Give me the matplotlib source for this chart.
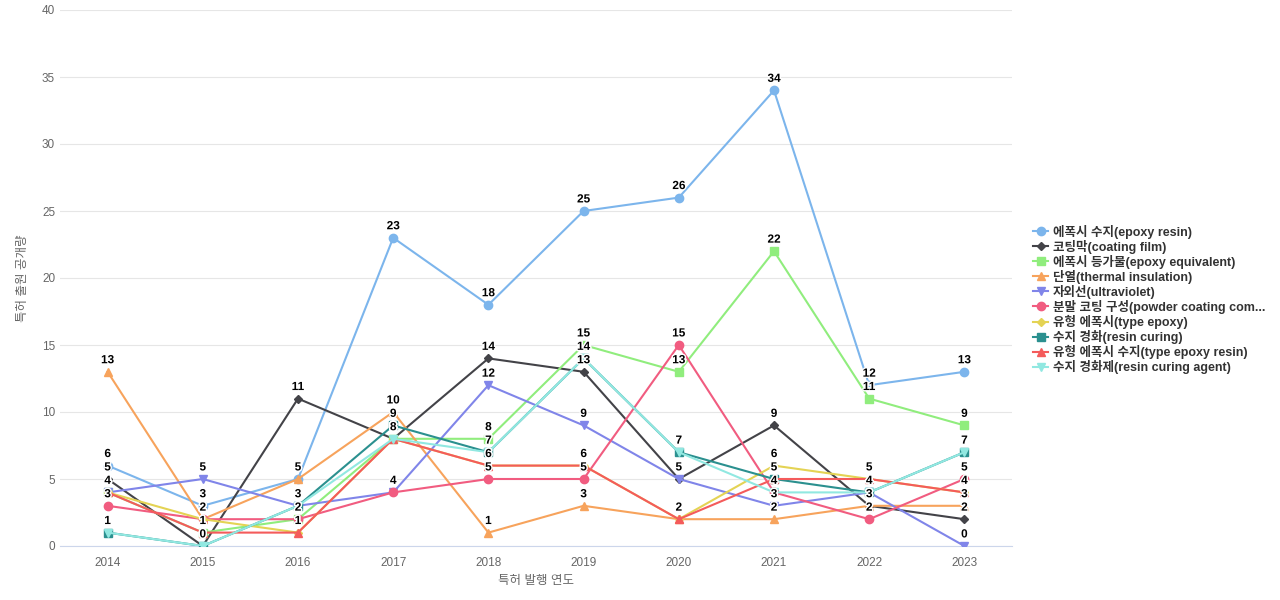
import matplotlib.pyplot as plt
import matplotlib.patheffects as pe

plt.rcParams['font.family'] = ['Liberation Sans', 'Noto Sans CJK KR', 'DejaVu Sans']

years = ['2014', '2015', '2016', '2017', '2018', '2019', '2020', '2021', '2022', '2023']

names = ['에폭시 수지(epoxy resin)', '코팅막(coating film)', '에폭시 등가물(epoxy equivalent)',
         '단열(thermal insulation)', '자외선(ultraviolet)', '분말 코팅 구성(powder coating com...',
         '유형 에폭시(type epoxy)', '수지 경화(resin curing)', '유형 에폭시 수지(type epoxy resin)',
         '수지 경화제(resin curing agent)']

epoxy_resin = [6, 3, 5, 23, 18, 25, 26, 34, 12, 13]
coating_film = [5, 0, 11, 8, 14, 13, 5, 9, 3, 2]
epoxy_equiv = [4, 1, 2, 8, 8, 15, 13, 22, 11, 9]
thermal_ins = [13, 2, 5, 10, 1, 3, 2, 2, 3, 3]
ultraviolet = [4, 5, 3, 4, 12, 9, 5, 3, 4, 0]
powder_coating = [3, 2, 2, 4, 5, 5, 15, 4, 2, 5]
type_epoxy = [4, 2, 1, 8, 6, 6, 2, 6, 5, 4]
resin_curing = [1, 0, 3, 9, 7, 14, 7, 5, 4, 7]
type_epoxy_resin = [4, 1, 1, 8, 6, 6, 2, 5, 5, 4]
curing_agent = [1, 0, 3, 8, 7, 14, 7, 4, 4, 7]

series = [epoxy_resin, coating_film, epoxy_equiv, thermal_ins, ultraviolet,
          powder_coating, type_epoxy, resin_curing, type_epoxy_resin, curing_agent]
colors = ['#7cb5ec', '#434348', '#90ed7d', '#f7a35c', '#8085e9',
          '#f15c80', '#e4d354', '#2b908f', '#f45b5b', '#91e8e1']
markers = ['o', 'D', 's', '^', 'v', 'o', 'D', 's', '^', 'v']
msizes = [6, 4.5, 6, 6, 6, 6, 4.5, 6, 6, 6]

fig = plt.figure(figsize=(12.8, 6), dpi=100)
ax = fig.add_axes([60/1280, 54/600, 952/1280, 536/600])

x = list(range(len(years)))
for i in range(len(series)):
    ax.plot(x, series[i], color=colors[i], marker=markers[i], markersize=msizes[i],
            linewidth=1.5, label=names[i], zorder=3)

# data labels above every point
for i in range(len(series)):
    for j in range(len(years)):
        t = ax.annotate(str(series[i][j]), (x[j], series[i][j]), xytext=(0, 4),
                        textcoords='offset points', ha='center', va='bottom',
                        fontsize=8.5, fontweight='bold', color='black', zorder=5)
        t.set_path_effects([pe.withStroke(linewidth=2, foreground='white')])

ax.set_xlim(-0.5, 9.5)
ax.set_ylim(0, 40)
ax.set_xticks(x)
ax.set_xticklabels(years)
ax.set_yticks(range(0, 41, 5))
ax.tick_params(axis='both', length=0, labelsize=8.5, labelcolor='#666666')
ax.tick_params(axis='x', pad=8)
ax.grid(axis='y', color='#e6e6e6', linewidth=0.8)
ax.set_axisbelow(True)
for s in ['top', 'right', 'left']:
    ax.spines[s].set_visible(False)
ax.spines['bottom'].set_color('#ccd6eb')
ax.set_xlabel('특허 발행 연도', fontsize=9, color='#666666', labelpad=4)
ax.set_ylabel('특허 출원 공개량', fontsize=9, color='#666666', labelpad=9)

leg = ax.legend(loc='center left', bbox_to_anchor=(1.017, 0.46), frameon=False,
                fontsize=9, handlelength=1.2, handletextpad=0.4, labelspacing=0.08,
                borderaxespad=0)
for txt in leg.get_texts():
    txt.set_color('#333333')
    txt.set_fontweight('bold')

plt.savefig('out.png', dpi=100)
